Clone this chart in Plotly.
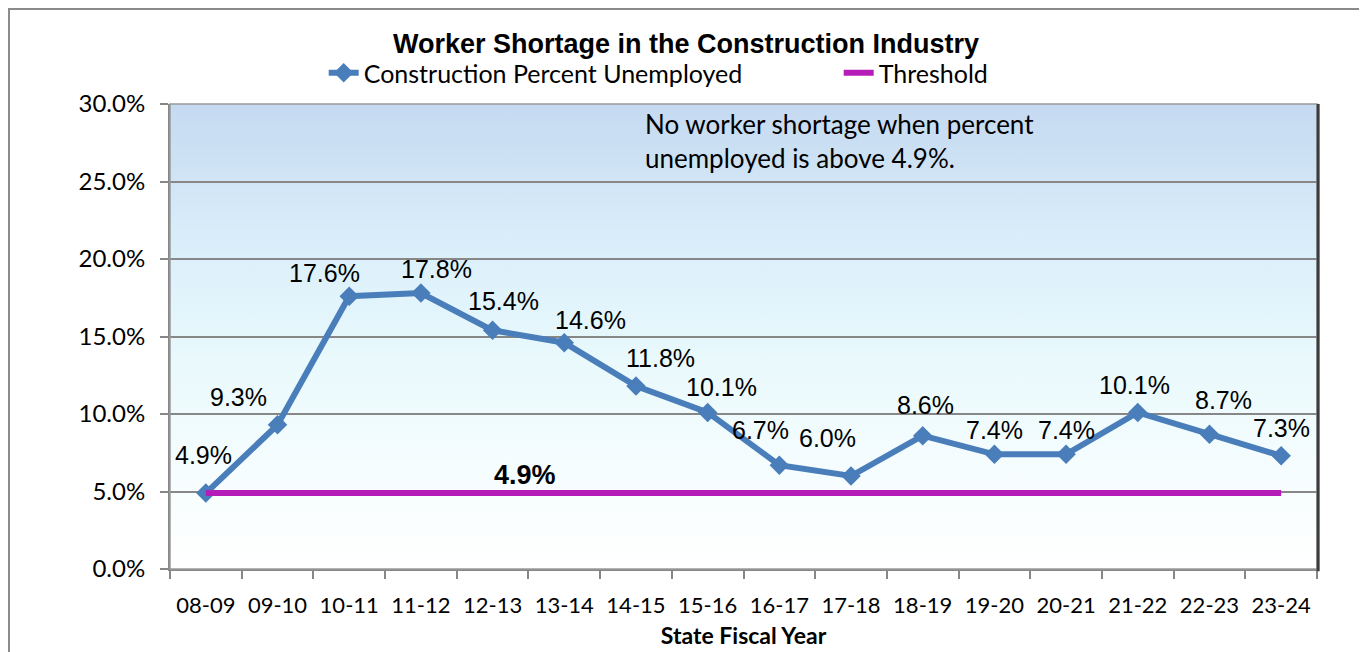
import plotly.graph_objects as go
import base64

# ---- data ----
years = ["08-09", "09-10", "10-11", "11-12", "12-13", "13-14", "14-15", "15-16",
         "16-17", "17-18", "18-19", "19-20", "20-21", "21-22", "22-23", "23-24"]
unemployed = [4.9, 9.3, 17.6, 17.8, 15.4, 14.6, 11.8, 10.1, 6.7, 6.0, 8.6, 7.4, 7.4, 10.1, 8.7, 7.3]
threshold_value = 4.9
threshold = [threshold_value] * len(years)

# label offsets (styling): x shift, y shift in px
label_dx = [-2, -39, -25, 16, 11, 26, 25, 14, -19, -24, 3, 0, 0, -3, 14, 0]
label_dy = [38, 28, 23, 24, 29, 23, 28, 25, 35, 38, 31, 24, 24, 27, 34, 28]

BLUE = "#4a7ebb"
MAGENTA = "#b61db8"
GRID = "#878787"
CAL = "Lato, 'Open Sans', sans-serif"
ARIAL = "'Liberation Sans', Arial, sans-serif"

fig = go.Figure()
fig.add_trace(go.Scatter(
    x=years, y=unemployed, name="Construction Percent Unemployed",
    mode="lines+markers",
    line=dict(color=BLUE, width=6),
    marker=dict(symbol="diamond", size=15, color=BLUE),
))
fig.add_trace(go.Scatter(
    x=years, y=threshold, name="Threshold", mode="lines",
    line=dict(color=MAGENTA, width=6),
))

# data labels
for i, (yr, v) in enumerate(zip(years, unemployed)):
    fig.add_annotation(x=yr, y=v, text=f"{v:.1f}%", showarrow=False,
                       xshift=label_dx[i], yshift=label_dy[i],
                       font=dict(family=ARIAL, size=25, color="black"))

# threshold label
fig.add_annotation(xref="paper", x=0.3095, xanchor="center", y=threshold_value, yshift=18,
                   text=f"<b>{threshold_value:.1f}%</b>", showarrow=False,
                   font=dict(family=ARIAL, size=27, color="black"))

# note
fig.add_annotation(xref="paper", yref="paper", x=0.4124, y=0.995,
                   xanchor="left", yanchor="top", align="left",
                   text="No worker shortage when percent<br>unemployed is above 4.9%.",
                   showarrow=False,
                   font=dict(family=CAL, size=26, color="black"))

# gradient background via svg image
svg = ('<svg xmlns="http://www.w3.org/2000/svg" width="100" height="100" preserveAspectRatio="none">'
       '<defs><linearGradient id="g" x1="0" y1="0" x2="0" y2="1">'
       '<stop offset="0" stop-color="#c5d9f1"/>'
       '<stop offset="0.33" stop-color="#dcf0fb"/>'
       '<stop offset="0.55" stop-color="#e9f9fc"/>'
       '<stop offset="0.8" stop-color="#f6fdfe"/>'
       '<stop offset="1" stop-color="#ffffff"/>'
       '</linearGradient></defs>'
       '<rect width="100" height="100" fill="url(#g)"/></svg>')
src = "data:image/svg+xml;base64," + base64.b64encode(svg.encode()).decode()
fig.add_layout_image(source=src, xref="paper", yref="paper", x=0, y=1,
                     sizex=1, sizey=1, sizing="stretch", layer="below",
                     xanchor="left", yanchor="top")

# plot area frame + shadow
fig.add_shape(type="rect", xref="paper", yref="paper", x0=0, x1=1, y0=0, y1=1,
              line=dict(color="#9a9a9a", width=1.5), layer="above")
fig.add_shape(type="line", xref="paper", yref="paper", x0=1.001, x1=1.001, y0=-0.005, y1=1,
              line=dict(color="#3c3c3c", width=3), layer="above")
# outer chart border
fig.add_shape(type="rect", xref="paper", yref="paper", x0=-0.1404, x1=1.0419,
              y0=-0.25, y1=1.2043, line=dict(color="#8a8a8a", width=2))

fig.update_layout(
    width=1367, height=652,
    margin=dict(l=162, r=58, t=96, b=91, autoexpand=False),
    paper_bgcolor="white", plot_bgcolor="rgba(0,0,0,0)",
    title=dict(text="<b>Worker Shortage in the Construction Industry</b>",
               xref="container", x=678 / 1367, xanchor="center",
               yref="container", y=1 - 36 / 652, yanchor="middle",
               font=dict(family=ARIAL, size=27, color="black")),
    legend=dict(orientation="h", xref="paper", yref="container",
                x=0.134, xanchor="left", y=1 - 65 / 652, yanchor="middle",
                font=dict(family=CAL, size=25, color="black"),
                entrywidth=470, entrywidthmode="pixels",
                bgcolor="rgba(0,0,0,0)", itemclick=False),
    showlegend=True,
)
fig.update_xaxes(type="category", range=[-0.5, len(years) - 0.5], automargin=False,
                 tickson="boundaries", ticks="outside", ticklen=8, tickcolor=GRID, tickwidth=2,
                 showline=True, linecolor=GRID, linewidth=2, showgrid=False,
                 tickangle=0,
                 tickfont=dict(family=CAL, size=22, color="black"),
                 ticklabelstandoff=16,
                 title=dict(text="<b>State Fiscal Year</b>", standoff=10,
                            font=dict(family=CAL, size=23, color="black")))
fig.update_yaxes(range=[0, 30], dtick=5, tickformat=".1f", ticksuffix="%", automargin=False,
                 ticks="outside", ticklen=8, tickcolor=GRID, tickwidth=2,
                 showline=True, linecolor=GRID, linewidth=2,
                 showgrid=True, gridcolor=GRID, gridwidth=2, zeroline=False,
                 tickfont=dict(family=CAL, size=24, color="black"),
                 ticklabelstandoff=10)

fig.write_html("out.html")
